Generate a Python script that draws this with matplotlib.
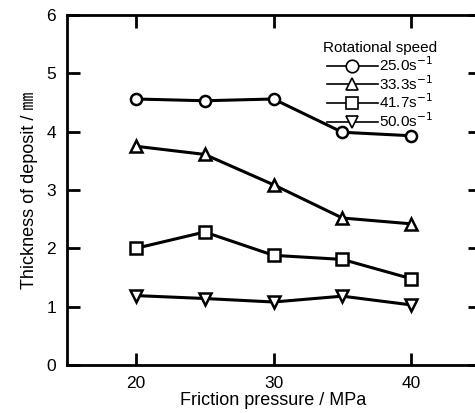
import matplotlib
matplotlib.use("Agg")
import matplotlib.pyplot as plt

plt.rcParams['font.family'] = ['Liberation Sans', 'Noto Sans CJK JP', 'DejaVu Sans']

pressure = [20, 25, 30, 35, 40]
speeds = ["25.0", "33.3", "41.7", "50.0"]
markers = ["o", "^", "s", "v"]
thickness = [
    [4.56, 4.53, 4.56, 3.99, 3.93],
    [3.75, 3.61, 3.09, 2.52, 2.42],
    [2.00, 2.28, 1.88, 1.81, 1.48],
    [1.19, 1.14, 1.08, 1.18, 1.03],
]

fig = plt.figure(figsize=(4.75, 4.13), dpi=100)
ax = fig.add_axes([67/475, 48/413, 413/475, 350/413])

for sp, mk, th in zip(speeds, markers, thickness):
    ax.plot(pressure, th, color="black", lw=2.2, marker=mk, ms=8,
            mfc="white", mec="black", mew=1.8, label=sp + "s$^{-1}$")

ax.set_xlim(15, 45)
ax.set_ylim(0, 6)
ax.set_xticks([20, 30, 40])
ax.set_yticks([0, 1, 2, 3, 4, 5, 6])
ax.tick_params(direction="in", length=9, width=2, labelsize=12.5,
               top=True, right=True)
ax.tick_params(axis="x", pad=8)
ax.tick_params(axis="y", pad=8)
for s in ax.spines.values():
    s.set_linewidth(2)

ax.set_xlabel("Friction pressure / MPa", fontsize=13, labelpad=0.5)
ax.set_ylabel("Thickness of deposit / ㎜", fontsize=13, labelpad=6)

leg = ax.legend(title="Rotational speed", loc="upper left",
                bbox_to_anchor=(0.62, 0.925), frameon=False, fontsize=11,
                title_fontsize=11, handlelength=3.3, handletextpad=0.1,
                labelspacing=0.0, borderpad=0, borderaxespad=0)
for h in leg.legend_handles:
    h.set_linewidth(1.2)
    h.set_markeredgewidth(1.2)
    h.set_markersize(9)

fig.savefig("out.png", dpi=100)
